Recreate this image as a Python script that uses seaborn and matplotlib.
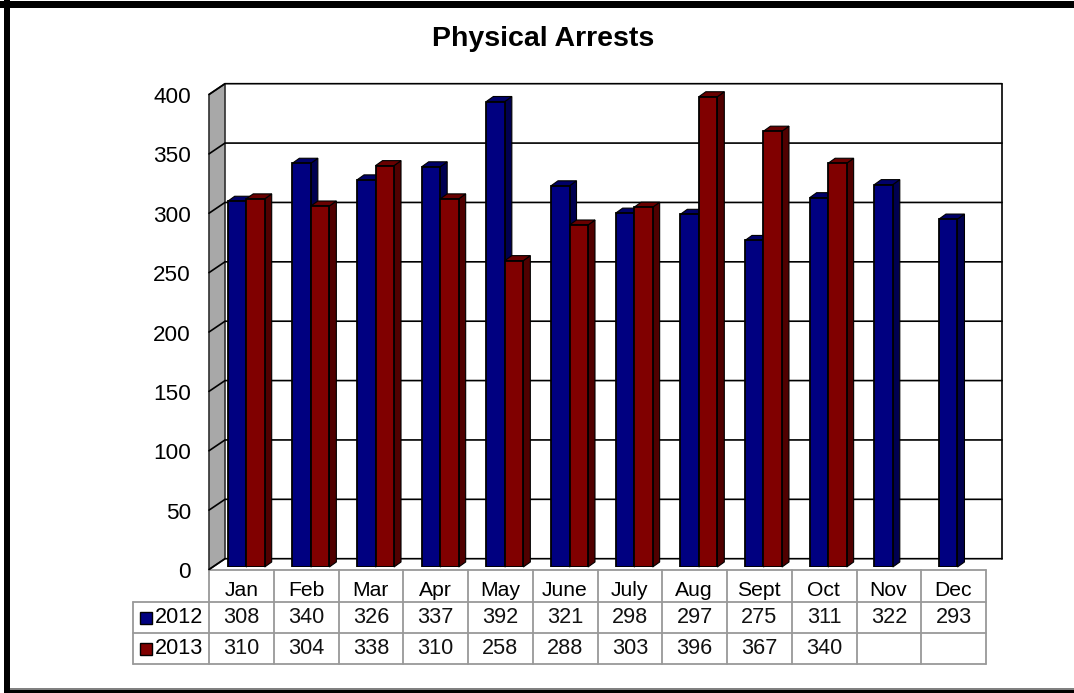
import matplotlib
matplotlib.use("Agg")
import matplotlib.pyplot as plt
from matplotlib.patches import Polygon, Rectangle
from matplotlib.transforms import ScaledTranslation
import numpy as np
import pandas as pd
import seaborn as sns

months = ["Jan","Feb","Mar","Apr","May","June","July","Aug","Sept","Oct","Nov","Dec"]
values_2012 = [308,340,326,337,392,321,298,297,275,311,322,293]
values_2013 = [310,304,338,310,258,288,303,396,367,340,None,None]
y_ticks = [0,50,100,150,200,250,300,350,400]
title = "Physical Arrests"
BLUE, BLUE_TOP, BLUE_SIDE = "#000080", "#000068", "#000050"
RED, RED_TOP, RED_SIDE = "#800000", "#680000", "#500000"
W, H = 1074, 693

sns.set_theme(style="white")
plt.rcParams["font.family"] = ["Liberation Sans", "DejaVu Sans"]

fig = plt.figure(figsize=(W/100, H/100), dpi=100, facecolor="white")

# pixel overlay for frame and table grid
ov = fig.add_axes([0, 0, 1, 1], zorder=0)
ov.set_xlim(0, W); ov.set_ylim(H, 0); ov.axis("off")

PITCH = 64.66
PX_UNIT = 1.1875
BASE_PX = 567
CX0 = 246.2
left = CX0 - PITCH/2
ax = fig.add_axes([left/W, (H-BASE_PX)/H, 12*PITCH/W, 400*PX_UNIT/H], zorder=1)
ax.patch.set_alpha(0)

df = pd.DataFrame({
    "month": months*2,
    "year": ["2012"]*12 + ["2013"]*12,
    "value": [np.nan if v is None else v for v in values_2012 + values_2013],
})
sns.barplot(data=df, x="month", y="value", hue="year", order=months,
            hue_order=["2012","2013"], palette=[BLUE, RED], width=0.572, gap=0, saturation=1,
            dodge=True, legend=False, edgecolor="black", linewidth=1.3, ax=ax, zorder=5)
ax.set_xlim(-0.5, 11.5); ax.set_ylim(0, 400)
ax.set_xlabel(""); ax.set_ylabel("")
for s in ax.spines.values():
    s.set_visible(False)

# plot box in data units (pixels divided by the scales)
fx = (209-CX0)/PITCH; bx = (225-CX0)/PITCH; rx = (1002-CX0)/PITCH
fy = (BASE_PX-569.5)/PX_UNIT; by = (BASE_PX-558.7)/PX_UNIT
ax.add_patch(Polygon([(fx,fy),(bx,by),(bx,by+400),(fx,fy+400)], closed=True, fc="#a8a8a8",
                     ec="#303030", lw=1.2, clip_on=False, zorder=1))
for v in y_ticks:
    ax.plot([fx,bx,rx],[fy+v,by+v,by+v], color="black", lw=1.2, clip_on=False, zorder=2,
            solid_joinstyle="miter")
ax.plot([rx,rx],[by,by+400], color="black", lw=1.2, clip_on=False, zorder=2)

# 3-D faces built from the seaborn bars
DX = 7/PITCH; DY = 5/PX_UNIT
bars = [b for b in ax.patches if isinstance(b, Rectangle)]
for b in bars:
    h = b.get_height()
    if not np.isfinite(h) or h == 0:
        continue
    is_blue = matplotlib.colors.to_hex(b.get_facecolor()) == BLUE
    x0, x1 = b.get_x(), b.get_x()+b.get_width()
    top, side = (BLUE_TOP, BLUE_SIDE) if is_blue else (RED_TOP, RED_SIDE)
    z = 3 if is_blue else 4
    ax.add_patch(Polygon([(x1,0),(x1+DX,DY),(x1+DX,h+DY),(x1,h)], closed=True, fc=side, ec="black",
                         lw=0.8, clip_on=False, zorder=z))
    ax.add_patch(Polygon([(x0,h),(x0+DX,h+DY),(x1+DX,h+DY),(x1,h)], closed=True, fc=top, ec="black",
                         lw=0.8, clip_on=False, zorder=z))

# tick labels
ax.set_yticks(y_ticks)
ax.set_yticklabels([str(v) for v in y_ticks])
ax.tick_params(axis="y", length=0, pad=0, labelsize=16.2, labelcolor="black")
for lab in ax.get_yticklabels():
    lab.set_transform(lab.get_transform() + ScaledTranslation(-(left-191)/100, -3/100, fig.dpi_scale_trans))
col_w = (986-209)/12
ax.set_xticks(range(12))
ax.set_xticklabels(months)
ax.tick_params(axis="x", length=0, pad=0, labelsize=15.2, labelcolor="black")
for lab in ax.get_xticklabels():
    lab.set_verticalalignment("center")
    lab.set_transform(lab.get_transform() + ScaledTranslation(-4.8/100, -(590-BASE_PX)/100, fig.dpi_scale_trans))

# title
ov.text(543, 39, title, ha="center", va="center", fontsize=20.5, fontweight="bold", color="black")

# table
GRID = "#999999"
tx0, tx1, lx = 209, 986, 133
r0, r1, r2, r3 = 570, 602, 633, 664
for y in (r0,):
    ov.plot([tx0,tx1],[y,y], color=GRID, lw=1.3)
for y in (r1,r2,r3):
    ov.plot([lx,tx1],[y,y], color=GRID, lw=1.3)
ov.plot([lx,lx],[r1,r3], color=GRID, lw=1.3)
for i in range(13):
    x = tx0 + i*col_w
    ov.plot([x,x],[r0,r3], color=GRID, lw=1.3)
for row, (name, vals, col) in enumerate([("2012", values_2012, BLUE), ("2013", values_2013, RED)]):
    yc = (r1+r2)/2 if row == 0 else (r2+r3)/2
    ov.add_patch(Rectangle((140, yc-6), 12, 12, fc=col, ec="black", lw=1))
    ov.text(155, yc, name, ha="left", va="center", fontsize=15.6, color="black")
    for i, v in enumerate(vals):
        if v is not None:
            ov.text(tx0+(i+.5)*col_w, yc, str(v), ha="center", va="center", fontsize=15.6, color="#111111")

# outer frame: heavy top, left and bottom rules; the right side stays open
ov.add_patch(Rectangle((0,1), W, 6.5, fc="black", ec="none"))
ov.add_patch(Rectangle((4,0), 6, H, fc="black", ec="none"))
ov.add_patch(Rectangle((4,690), W-4, 3, fc="black", ec="none"))
ov.add_patch(Rectangle((10,688), W-10, 2, fc="#808080", ec="none"))

fig.savefig("out.png", dpi=100)
